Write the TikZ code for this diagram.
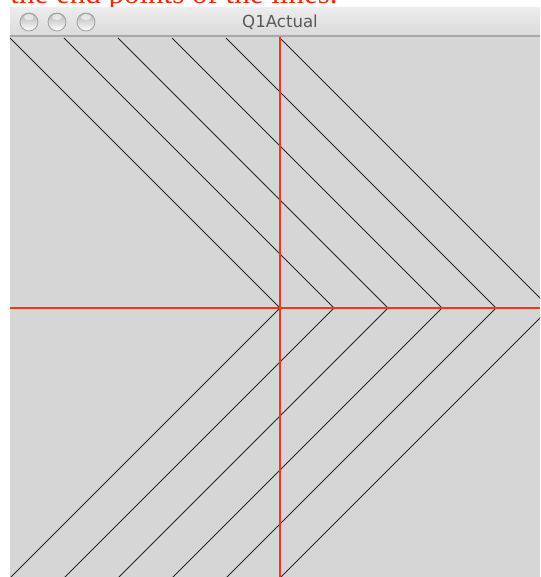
\documentclass[tikz,border=0pt]{standalone}
\usepackage{fontspec}
\setmainfont{Liberation Serif}
\newfontfamily\guifont{DejaVu Sans}
\usepackage{xcolor}
\usetikzlibrary{positioning, calc}
\definecolor{notered}{RGB}{238, 42, 8}
\definecolor{axisred}{RGB}{250, 52, 22}
\definecolor{canvasgray}{RGB}{214, 214, 214}
\definecolor{titletop}{RGB}{236, 236, 236}
\definecolor{titlebottom}{RGB}{218, 218, 218}
\definecolor{bordergray}{RGB}{168, 168, 168}
\definecolor{titletext}{RGB}{88, 88, 88}

\begin{document}
\begin{tikzpicture}[x=0.5pt, y=-0.5pt]
    \useasboundingbox (0,0) rectangle (540,577);
    \clip (0,0) rectangle (540,577);

    % Caption (cut off at the top)
    \node[font=\fontsize{15.5}{18}\selectfont, text=notered, anchor=base west, inner sep=0pt] (caption) at (10,4) {the end points of the lines.};

    % Title bar
    \shade[top color=titletop, bottom color=titlebottom] (10,8) rectangle (540,36);
    \fill[canvasgray] (10,37) rectangle (540,577);
    \draw[bordergray, line width=1pt] (10,36.5) -- (540,36.5);
    \foreach \x/\name in {29/close, 57/minimise, 86/maximise} {
        \shade[top color=gray!60, bottom color=white, draw=gray!75, line width=0.4pt] (\x,22) circle (9);
        \fill[white, opacity=0.6] (\x,17) ellipse (5 and 3);
    }
    \node[font=\guifont\fontsize{8.3}{10}\selectfont, text=titletext] (title) at (280,22.5) {Q1Actual};

    % Chevrons
    \foreach \i in {0,...,5} {
        \draw[black!85, line width=0.5pt] (10+54*\i,38) -- (280+54*\i,308) -- (10+54*\i,578);
    }

    % Axes
    \draw[axisred, line width=1pt] (10,308) -- (540,308);
    \draw[axisred, line width=1pt] (280,37) -- (280,577);
\end{tikzpicture}
\end{document}
